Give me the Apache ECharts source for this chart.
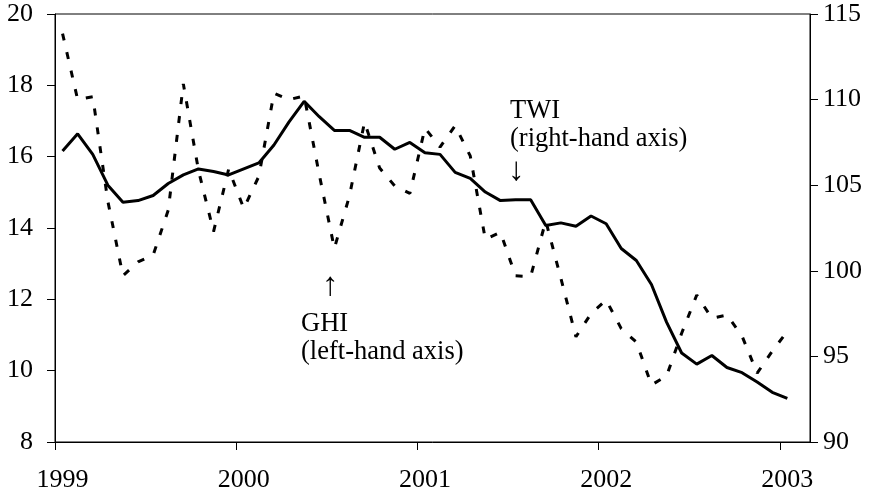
<!DOCTYPE html>
<html>
<head>
<meta charset="utf-8">
<script src="https://cdn.jsdelivr.net/npm/echarts@6/dist/echarts.min.js"></script>
<style>
  html, body { margin: 0; padding: 0; background: #fff; }
  #chart { width: 877px; height: 496px; }
</style>
</head>
<body>
<div id="chart"></div>
<script>
// monthly data, Jan 1999 .. Jan 2003
const years = ['1999', '2000', '2001', '2002', '2003']
// GHI, left-hand axis (dashed)
const ghi = [
  19.45, 17.6, 17.68, 14.75, 12.66, 13.05, 13.24, 14.5, 18.04, 15.62, 13.9, 15.65,
  14.55, 15.45, 17.78, 17.6, 17.7, 15.5, 13.43, 14.9, 16.97, 15.68, 15.18, 14.97,
  16.8, 16.27, 16.87, 16.02, 13.68, 13.88, 12.66, 12.64, 14.2, 12.59, 10.95, 11.6,
  11.98, 11.18, 10.8, 9.6, 9.85, 11.05, 12.12, 11.47, 11.56, 10.97, 9.93, 10.55,
  11.1
]
// TWI, right-hand axis (solid)
const twi = [
  107.0, 108.0, 106.8, 105.0, 104.0, 104.1, 104.4, 105.1, 105.6, 105.95, 105.8, 105.6,
  105.95, 106.3, 107.35, 108.7, 109.9, 109.0, 108.2, 108.2, 107.8, 107.8, 107.1, 107.5,
  106.9, 106.8, 105.75, 105.4, 104.6, 104.1, 104.15, 104.15, 102.65, 102.8, 102.6, 103.2,
  102.75, 101.3, 100.6, 99.2, 97.0, 95.2, 94.55, 95.05, 94.35, 94.05, 93.5, 92.9,
  92.55
]
const monthCount = 50

const font = 'Liberation Serif, Times New Roman, serif'

// points sit in the middle of each month
const toPoints = (arr) => arr.map((v, i) => [i + 0.5, v])
const yearTicks = years.map((y, i) => i * 12)
const yearLabelPos = years.map((y, i) => i * 12 + 0.5)

const chart = echarts.init(document.getElementById('chart'))

const axisCommon = {
    axisLine: { show: true, lineStyle: { color: '#000', width: 1 } },
    axisTick: { show: true, inside: false, length: 8, lineStyle: { color: '#000', width: 1 } },
    splitLine: { show: false },
}

const option = {
    animation: false,
    backgroundColor: '#fff',
    grid: {
        left: 55, right: 67, top: 14, bottom: 54,
        show: true, borderColor: '#000', borderWidth: 1,
    },
    xAxis: {
        type: 'value',
        min: 0,
        max: monthCount,
        ...axisCommon,
        axisTick: { show: true, length: 8, lineStyle: { color: '#000' }, customValues: yearTicks },
        axisLabel: {
            customValues: yearLabelPos,
            formatter: (v) => years[Math.floor(v / 12)],
            fontFamily: font, fontSize: 26, color: '#000', margin: 25,
        },
    },
    yAxis: [
        {
            type: 'value', position: 'left',
            min: 8, max: 20, interval: 2,
            ...axisCommon,
            axisLabel: { fontFamily: font, fontSize: 26, color: '#000', margin: 22 },
        },
        {
            type: 'value', position: 'right',
            min: 90, max: 115, interval: 5,
            ...axisCommon,
            axisLabel: { fontFamily: font, fontSize: 26, color: '#000', margin: 13 },
        },
    ],
    series: [
        {
            name: 'GHI', type: 'line', yAxisIndex: 0,
            data: toPoints(ghi), symbol: 'none',
            lineStyle: { color: '#000', width: 3, type: [7, 12] },
        },
        {
            name: 'TWI', type: 'line', yAxisIndex: 1,
            data: toPoints(twi), symbol: 'none',
            lineStyle: { color: '#000', width: 3 },
        },
    ],
    graphic: [
        { type: 'text', left: 510, top: 97, style: { text: 'TWI\n(right-hand axis)', font: '26.5px ' + font, fill: '#000', lineHeight: 28 } },
        { type: 'text', left: 508, top: 155, style: { text: '↓', font: '33px ' + font, fill: '#000' } },
        { type: 'text', left: 322, top: 270, style: { text: '↑', font: '33px ' + font, fill: '#000' } },
        { type: 'text', left: 301, top: 310, style: { text: 'GHI\n(left-hand axis)', font: '26.5px ' + font, fill: '#000', lineHeight: 28 } },
    ],
}
chart.setOption(option)
</script>
</body>
</html>
